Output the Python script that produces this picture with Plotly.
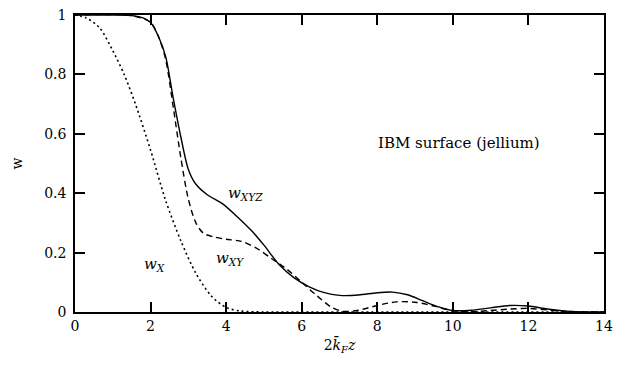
import plotly.graph_objects as go

# w_XYZ (solid)
x_xyz = [0, 0.5, 1.0, 1.5, 1.8, 2.0, 2.2, 2.4, 2.6, 2.8, 3.0, 3.2, 3.5, 3.9, 4.3, 4.7, 5.0, 5.4, 5.8, 6.2, 6.6, 7.0, 7.5, 8.0, 8.4, 8.8, 9.2, 9.6, 10.0, 10.5, 11.0, 11.5, 12.0, 12.5, 13.0, 13.5, 14]
y_xyz = [1, 1, 1, 0.998, 0.99, 0.975, 0.93, 0.86, 0.72, 0.59, 0.48, 0.43, 0.395, 0.365, 0.32, 0.27, 0.225, 0.16, 0.115, 0.085, 0.065, 0.056, 0.057, 0.065, 0.067, 0.058, 0.038, 0.018, 0.005, 0.006, 0.014, 0.022, 0.02, 0.01, 0.003, 0.0, 0]

# w_XY (dashed)
x_xy = [0, 1.5, 2.0, 2.2, 2.4, 2.6, 2.8, 3.0, 3.2, 3.4, 3.7, 4.0, 4.4, 4.8, 5.2, 5.6, 6.0, 6.4, 6.8, 7.1, 7.5, 8.0, 8.5, 9.0, 9.5, 10.0, 10.5, 11.0, 11.5, 12.0, 12.5, 13.0, 14]
y_xy = [1, 0.998, 0.975, 0.93, 0.85, 0.69, 0.52, 0.38, 0.30, 0.265, 0.252, 0.245, 0.238, 0.215, 0.18, 0.145, 0.10, 0.055, 0.015, 0.002, 0.006, 0.022, 0.034, 0.033, 0.02, 0.004, 0.001, 0.005, 0.01, 0.012, 0.007, 0.002, 0]

# w_X (dotted)
x_x = [0, 0.3, 0.65, 1.0, 1.3, 1.6, 2.0, 2.4, 2.8, 3.2, 3.6, 4.0, 4.4, 5.0, 6.0, 14]
y_x = [1, 0.99, 0.957, 0.88, 0.80, 0.70, 0.545, 0.375, 0.24, 0.13, 0.055, 0.015, 0.003, 0.0, 0, 0]

x_ticks = [0, 2, 4, 6, 8, 10, 12, 14]
y_ticks = [0, 0.2, 0.4, 0.6, 0.8, 1]
y_tick_text = ["0", "0.2", "0.4", "0.6", "0.8", "1"]

FONT = "DejaVu Serif, Liberation Serif, serif"

fig = go.Figure()
fig.add_trace(go.Scatter(x=x_xyz, y=y_xyz, mode="lines",
                         line=dict(color="black", width=1.4, shape="spline", smoothing=0.8)))
fig.add_trace(go.Scatter(x=x_xy, y=y_xy, mode="lines",
                         line=dict(color="black", width=1.4, dash="6px,4px", shape="spline", smoothing=0.8)))
fig.add_trace(go.Scatter(x=x_x, y=y_x, mode="lines",
                         line=dict(color="black", width=1.6, dash="2px,3px", shape="spline", smoothing=0.8)))

ann = [
    dict(x=4.5, y=0.40, text="<i>w<sub>XYZ</sub></i>", size=15),
    dict(x=4.1, y=0.18, text="<i>w<sub>XY</sub></i>", size=15),
    dict(x=2.1, y=0.16, text="<i>w<sub>X</sub></i>", size=15),
    dict(x=10.17, y=0.57, text="IBM surface (jellium)", size=15),
]
for a in ann:
    fig.add_annotation(x=a["x"], y=a["y"], text=a["text"], showarrow=False,
                       font=dict(family=FONT, size=a["size"], color="black"))

axis_common = dict(showline=True, linecolor="black", linewidth=1.5, mirror="ticks",
                   ticks="inside", ticklen=10, tickwidth=1.5, tickcolor="black",
                   showgrid=False, zeroline=False,
                   tickfont=dict(family=FONT, size=14, color="black"))

fig.update_xaxes(range=[0, 14], tickvals=x_ticks, ticktext=[str(v) for v in x_ticks],
                 title=dict(text="2<i>k\u0304<sub>F</sub>z</i>", font=dict(family=FONT, size=14, color="black"), standoff=8),
                 **axis_common)
fig.update_yaxes(range=[0, 1], tickvals=y_ticks, ticktext=y_tick_text,
                 title=dict(text="w", font=dict(family=FONT, size=14, color="black"), standoff=18),
                 ticklabelstandoff=4,
                 **axis_common)

fig.update_layout(width=628, height=370, margin=dict(l=75, r=24, t=7, b=58),
                  plot_bgcolor="white", paper_bgcolor="white", showlegend=False,
                  font=dict(family=FONT))

fig.write_html("out.html")
